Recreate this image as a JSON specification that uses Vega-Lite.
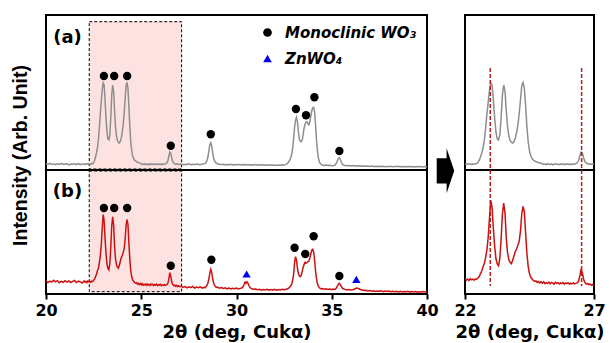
{
"$schema":"https://vega.github.io/schema/vega-lite/v6.json",
"background":"white",
"padding":{"left":9,"top":14,"right":0,"bottom":0},
"config":{"view":{"stroke":"black","strokeWidth":2},"font":"DejaVu Sans"},
"datasets":{
"xrd":[
{"x":20.0,"a":63,"b":133},{"x":20.1,"a":55,"b":115},{"x":20.2,"a":66,"b":129},{"x":20.3,"a":58,"b":119},{"x":20.4,"a":61,"b":137},{"x":20.5,"a":54,"b":122},{"x":20.6,"a":63,"b":133},{"x":20.7,"a":56,"b":113},{"x":20.8,"a":66,"b":126},{"x":20.9,"a":55,"b":117},
{"x":21.0,"a":59,"b":134},{"x":21.1,"a":63,"b":120},{"x":21.2,"a":51,"b":130},{"x":21.3,"a":60,"b":115},{"x":21.4,"a":57,"b":126},{"x":21.5,"a":62,"b":136},{"x":21.6,"a":54,"b":115},{"x":21.7,"a":63,"b":128},{"x":21.8,"a":53,"b":121},{"x":21.9,"a":59,"b":110},
{"x":22.0,"a":61,"b":130},{"x":22.05,"a":55,"b":118},{"x":22.1,"a":62,"b":127},{"x":22.15,"a":58,"b":114},{"x":22.2,"a":63,"b":131},{"x":22.25,"a":56,"b":121},{"x":22.3,"a":60,"b":127},{"x":22.35,"a":57,"b":117},{"x":22.4,"a":64,"b":129},{"x":22.45,"a":62,"b":124},
{"x":22.5,"a":75,"b":136},{"x":22.55,"a":95,"b":148},{"x":22.6,"a":130,"b":172},{"x":22.65,"a":170,"b":196},{"x":22.7,"a":220,"b":232},{"x":22.75,"a":300,"b":258},{"x":22.8,"a":420,"b":312},{"x":22.85,"a":560,"b":378},{"x":22.9,"a":680,"b":485},{"x":22.95,"a":800,"b":650},
{"x":23.0,"a":870,"b":795},{"x":23.05,"a":850,"b":735},{"x":23.1,"a":700,"b":555},{"x":23.15,"a":520,"b":405},{"x":23.2,"a":380,"b":300},{"x":23.25,"a":310,"b":255},{"x":23.3,"a":300,"b":240},{"x":23.35,"a":350,"b":305},{"x":23.4,"a":520,"b":465},{"x":23.45,"a":750,"b":680},
{"x":23.5,"a":850,"b":772},{"x":23.55,"a":790,"b":690},{"x":23.6,"a":590,"b":475},{"x":23.65,"a":430,"b":350},{"x":23.7,"a":340,"b":292},{"x":23.75,"a":295,"b":268},{"x":23.8,"a":275,"b":258},{"x":23.85,"a":270,"b":288},{"x":23.9,"a":285,"b":325},{"x":23.95,"a":320,"b":362},
{"x":24.0,"a":375,"b":385},{"x":24.05,"a":450,"b":415},{"x":24.1,"a":560,"b":448},{"x":24.15,"a":700,"b":535},{"x":24.2,"a":840,"b":680},{"x":24.25,"a":875,"b":745},{"x":24.3,"a":820,"b":700},{"x":24.35,"a":640,"b":515},{"x":24.4,"a":430,"b":345},{"x":24.45,"a":280,"b":232},
{"x":24.5,"a":190,"b":172},{"x":24.55,"a":140,"b":142},{"x":24.6,"a":115,"b":128},{"x":24.65,"a":100,"b":115},{"x":24.7,"a":90,"b":108},{"x":24.75,"a":84,"b":112},{"x":24.8,"a":78,"b":98},{"x":24.85,"a":74,"b":106},{"x":24.9,"a":71,"b":94},{"x":24.95,"a":67,"b":103},
{"x":25.0,"a":62,"b":92},{"x":25.05,"a":56,"b":104},{"x":25.1,"a":60,"b":88},{"x":25.15,"a":54,"b":97},{"x":25.2,"a":63,"b":90},{"x":25.25,"a":57,"b":101},{"x":25.3,"a":55,"b":86},{"x":25.35,"a":61,"b":99},{"x":25.4,"a":52,"b":93},{"x":25.45,"a":58,"b":84},
{"x":25.5,"a":62,"b":100},{"x":25.55,"a":55,"b":91},{"x":25.6,"a":59,"b":97},{"x":25.65,"a":53,"b":85},{"x":25.7,"a":60,"b":95},{"x":25.75,"a":57,"b":89},{"x":25.8,"a":62,"b":98},{"x":25.85,"a":54,"b":84},{"x":25.9,"a":58,"b":94},{"x":25.95,"a":61,"b":88},
{"x":26.0,"a":55,"b":96},{"x":26.05,"a":59,"b":83},{"x":26.1,"a":53,"b":92},{"x":26.15,"a":60,"b":87},{"x":26.2,"a":57,"b":95},{"x":26.25,"a":61,"b":86},{"x":26.3,"a":64,"b":90},{"x":26.35,"a":72,"b":95},{"x":26.4,"a":95,"b":108},{"x":26.45,"a":140,"b":152},
{"x":26.5,"a":180,"b":213},{"x":26.55,"a":168,"b":178},{"x":26.6,"a":120,"b":122},{"x":26.65,"a":85,"b":96},{"x":26.7,"a":70,"b":84},{"x":26.75,"a":63,"b":90},{"x":26.8,"a":58,"b":78},{"x":26.85,"a":61,"b":86},{"x":26.9,"a":55,"b":74},{"x":26.95,"a":59,"b":82},
{"x":27.0,"a":56,"b":75},{"x":27.1,"a":60,"b":78},{"x":27.2,"a":53,"b":66},{"x":27.3,"a":58,"b":74},{"x":27.4,"a":55,"b":62},{"x":27.5,"a":61,"b":71},{"x":27.6,"a":52,"b":64},{"x":27.7,"a":57,"b":75},{"x":27.8,"a":54,"b":60},{"x":27.9,"a":60,"b":69},
{"x":28.0,"a":56,"b":63},{"x":28.1,"a":52,"b":72},{"x":28.2,"a":59,"b":58},{"x":28.3,"a":62,"b":66},{"x":28.35,"a":66,"b":62},{"x":28.4,"a":75,"b":72},{"x":28.45,"a":95,"b":85},{"x":28.5,"a":130,"b":110},{"x":28.55,"a":190,"b":150},{"x":28.6,"a":255,"b":210},
{"x":28.65,"a":273,"b":247},{"x":28.7,"a":240,"b":215},{"x":28.75,"a":170,"b":150},{"x":28.8,"a":120,"b":110},{"x":28.85,"a":90,"b":86},{"x":28.9,"a":76,"b":72},{"x":28.95,"a":68,"b":66},{"x":29.0,"a":62,"b":70},{"x":29.1,"a":57,"b":58},{"x":29.2,"a":54,"b":64},
{"x":29.3,"a":58,"b":55},{"x":29.4,"a":52,"b":62},{"x":29.5,"a":56,"b":52},{"x":29.6,"a":53,"b":60},{"x":29.7,"a":57,"b":50},{"x":29.8,"a":51,"b":57},{"x":29.9,"a":55,"b":53},{"x":30.0,"a":52,"b":59},{"x":30.1,"a":56,"b":50},{"x":30.2,"a":50,"b":56},
{"x":30.3,"a":54,"b":62},{"x":30.35,"a":51,"b":75},{"x":30.4,"a":55,"b":95},{"x":30.45,"a":52,"b":118},{"x":30.5,"a":54,"b":108},{"x":30.55,"a":50,"b":122},{"x":30.6,"a":53,"b":108},{"x":30.65,"a":51,"b":85},{"x":30.7,"a":55,"b":66},{"x":30.75,"a":49,"b":58},
{"x":30.8,"a":53,"b":52},{"x":30.9,"a":50,"b":47},{"x":31.0,"a":54,"b":50},{"x":31.1,"a":48,"b":42},{"x":31.2,"a":52,"b":47},{"x":31.3,"a":49,"b":38},{"x":31.4,"a":53,"b":45},{"x":31.5,"a":47,"b":40},{"x":31.6,"a":51,"b":46},{"x":31.7,"a":48,"b":37},
{"x":31.8,"a":52,"b":44},{"x":31.9,"a":47,"b":39},{"x":32.0,"a":50,"b":46},{"x":32.1,"a":46,"b":38},{"x":32.2,"a":51,"b":44},{"x":32.3,"a":48,"b":40},{"x":32.4,"a":52,"b":47},{"x":32.5,"a":49,"b":43},{"x":32.6,"a":56,"b":48},{"x":32.65,"a":62,"b":50},
{"x":32.7,"a":72,"b":55},{"x":32.75,"a":85,"b":62},{"x":32.8,"a":100,"b":70},{"x":32.85,"a":125,"b":82},{"x":32.9,"a":160,"b":100},{"x":32.95,"a":220,"b":140},{"x":33.0,"a":320,"b":200},{"x":33.05,"a":430,"b":320},{"x":33.1,"a":500,"b":373},{"x":33.15,"a":527,"b":335},
{"x":33.2,"a":480,"b":255},{"x":33.25,"a":380,"b":205},{"x":33.3,"a":310,"b":182},{"x":33.35,"a":285,"b":173},{"x":33.4,"a":283,"b":185},{"x":33.45,"a":300,"b":228},{"x":33.5,"a":360,"b":268},{"x":33.55,"a":420,"b":298},{"x":33.6,"a":460,"b":318},{"x":33.65,"a":480,"b":308},
{"x":33.7,"a":483,"b":315},{"x":33.75,"a":462,"b":323},{"x":33.8,"a":452,"b":330},{"x":33.85,"a":482,"b":360},{"x":33.9,"a":540,"b":400},{"x":33.95,"a":592,"b":438},{"x":34.0,"a":622,"b":447},{"x":34.05,"a":627,"b":420},{"x":34.1,"a":580,"b":340},{"x":34.15,"a":450,"b":230},
{"x":34.2,"a":300,"b":150},{"x":34.25,"a":190,"b":102},{"x":34.3,"a":120,"b":76},{"x":34.35,"a":82,"b":63},{"x":34.4,"a":64,"b":56},{"x":34.45,"a":55,"b":50},{"x":34.5,"a":50,"b":54},{"x":34.6,"a":46,"b":47},{"x":34.7,"a":49,"b":52},{"x":34.8,"a":44,"b":45},
{"x":34.9,"a":47,"b":50},{"x":35.0,"a":43,"b":44},{"x":35.1,"a":46,"b":49},{"x":35.15,"a":48,"b":46},{"x":35.2,"a":55,"b":52},{"x":35.25,"a":70,"b":62},{"x":35.3,"a":95,"b":82},{"x":35.35,"a":118,"b":100},{"x":35.4,"a":123,"b":107},{"x":35.45,"a":105,"b":94},
{"x":35.5,"a":80,"b":75},{"x":35.55,"a":60,"b":60},{"x":35.6,"a":50,"b":52},{"x":35.7,"a":45,"b":46},{"x":35.8,"a":42,"b":41},{"x":35.9,"a":45,"b":44},{"x":36.0,"a":41,"b":39},{"x":36.1,"a":44,"b":43},{"x":36.2,"a":40,"b":50},{"x":36.3,"a":43,"b":60},
{"x":36.4,"a":39,"b":55},{"x":36.5,"a":42,"b":45},{"x":36.6,"a":38,"b":40},{"x":36.7,"a":41,"b":35},{"x":36.8,"a":37,"b":38},{"x":36.9,"a":40,"b":31},{"x":37.0,"a":36,"b":35},{"x":37.1,"a":39,"b":28},{"x":37.2,"a":35,"b":33},{"x":37.3,"a":38,"b":26},
{"x":37.4,"a":34,"b":31},{"x":37.5,"a":37,"b":27},{"x":37.6,"a":35,"b":32},{"x":37.7,"a":38,"b":24},{"x":37.8,"a":33,"b":30},{"x":37.9,"a":36,"b":25},{"x":38.0,"a":34,"b":29},{"x":38.1,"a":37,"b":23},{"x":38.2,"a":33,"b":28},{"x":38.3,"a":36,"b":22},
{"x":38.4,"a":34,"b":27},{"x":38.5,"a":37,"b":21},{"x":38.6,"a":32,"b":26},{"x":38.7,"a":35,"b":20},{"x":38.8,"a":33,"b":25},{"x":38.9,"a":36,"b":22},{"x":39.0,"a":32,"b":26},{"x":39.1,"a":35,"b":19},{"x":39.2,"a":33,"b":24},{"x":39.3,"a":36,"b":20},
{"x":39.4,"a":31,"b":25},{"x":39.5,"a":34,"b":18},{"x":39.6,"a":32,"b":23},{"x":39.7,"a":35,"b":19},{"x":39.8,"a":31,"b":24},{"x":39.9,"a":34,"b":20},{"x":40.0,"a":32,"b":23}
],
"peaksA":[
{"x":23.04,"v":940,"phase":"Monoclinic WO₃"},{"x":23.58,"v":940,"phase":"Monoclinic WO₃"},{"x":24.26,"v":940,"phase":"Monoclinic WO₃"},{"x":26.55,"v":243,"phase":"Monoclinic WO₃"},{"x":28.65,"v":357,"phase":"Monoclinic WO₃"},{"x":33.12,"v":610,"phase":"Monoclinic WO₃"},{"x":33.65,"v":547,"phase":"Monoclinic WO₃"},{"x":34.09,"v":727,"phase":"Monoclinic WO₃"},{"x":35.4,"v":190,"phase":"Monoclinic WO₃"}
],
"peaksB":[
{"x":23.04,"v":860,"phase":"Monoclinic WO₃"},{"x":23.58,"v":860,"phase":"Monoclinic WO₃"},{"x":24.26,"v":860,"phase":"Monoclinic WO₃"},{"x":26.55,"v":283,"phase":"Monoclinic WO₃"},{"x":28.68,"v":343,"phase":"Monoclinic WO₃"},{"x":33.05,"v":463,"phase":"Monoclinic WO₃"},{"x":33.61,"v":400,"phase":"Monoclinic WO₃"},{"x":34.05,"v":577,"phase":"Monoclinic WO₃"},{"x":35.4,"v":180,"phase":"Monoclinic WO₃"},{"x":30.53,"v":200,"phase":"ZnWO₄"},{"x":36.29,"v":147,"phase":"ZnWO₄"}
]
},
"bounds":"flush",
"columns":2,
"spacing":{"row":0,"column":38},
"resolve":{"scale":{"color":"independent","shape":"independent"},"legend":{"color":"independent","shape":"independent"}},
"concat":[
 {"width":381,"height":155,
  "layer":[
   {"data":{"values":[{}]},
    "mark":{"type":"rect","fill":"#fde2e2","stroke":"black","strokeWidth":1,"strokeDash":[3,2]},
    "encoding":{
     "x":{"datum":22.27,"type":"quantitative","scale":{"domain":[20,40],"nice":false,"zero":false},"axis":null},
     "x2":{"datum":27.12},
     "y":{"datum":1483,"type":"quantitative","scale":{"domain":[0,1550],"nice":false,"zero":false},
      "axis":{"title":"Intensity (Arb. Unit)","labels":false,"ticks":false,"domain":false,"grid":false,"titleFont":"Liberation Sans","titleFontSize":19.5,"titleFontWeight":"bold","titleColor":"black","titleAngle":-90,"titleX":-26,"titleY":140,"titleBaseline":"middle","titleAlign":"center"}},
     "y2":{"datum":10}}},
   {"data":{"name":"xrd"},
    "mark":{"type":"line","color":"#8e8e8e","strokeWidth":1.5},
    "encoding":{
     "x":{"field":"x","type":"quantitative","scale":{"domain":[20,40],"nice":false,"zero":false},"axis":null},
     "y":{"field":"a","type":"quantitative","scale":{"domain":[0,1550],"nice":false,"zero":false},
      "axis":{"title":"Intensity (Arb. Unit)","labels":false,"ticks":false,"domain":false,"grid":false,"titleFont":"Liberation Sans","titleFontSize":19.5,"titleFontWeight":"bold","titleColor":"black","titleAngle":-90,"titleX":-26,"titleY":140,"titleBaseline":"middle","titleAlign":"center"}}}},
   {"data":{"name":"peaksA"},
    "mark":{"type":"point","filled":true,"opacity":1,"size":70},
    "encoding":{
     "x":{"field":"x","type":"quantitative","scale":{"domain":[20,40],"nice":false,"zero":false},"axis":null},
     "y":{"field":"v","type":"quantitative","scale":{"domain":[0,1550],"nice":false,"zero":false},
      "axis":{"title":"Intensity (Arb. Unit)","labels":false,"ticks":false,"domain":false,"grid":false,"titleFont":"Liberation Sans","titleFontSize":19.5,"titleFontWeight":"bold","titleColor":"black","titleAngle":-90,"titleX":-26,"titleY":140,"titleBaseline":"middle","titleAlign":"center"}},
     "color":{"field":"phase","type":"nominal","scale":{"domain":["Monoclinic WO₃","ZnWO₄"],"range":["black","#0000ee"]},
      "legend":{"orient":"none","legendX":214,"legendY":10,"title":null,"padding":0,"labelFont":"DejaVu Sans","labelFontSize":15,"labelFontWeight":"bold","labelFontStyle":"italic","labelColor":"black","symbolSize":75,"rowPadding":10,"labelOffset":10,"symbolStrokeWidth":0}},
     "shape":{"field":"phase","type":"nominal","scale":{"domain":["Monoclinic WO₃","ZnWO₄"],"range":["circle","triangle-up"]}}}},
   {"data":{"values":[{"label":"(a)"}]},
    "mark":{"type":"text","font":"DejaVu Sans","fontSize":18,"fontWeight":"bold","color":"black","align":"center","baseline":"middle"},
    "encoding":{
     "text":{"field":"label"},
     "x":{"datum":21.13,"type":"quantitative","scale":{"domain":[20,40],"nice":false,"zero":false},"axis":null},
     "y":{"datum":1325,"type":"quantitative","scale":{"domain":[0,1550],"nice":false,"zero":false},
      "axis":{"title":"Intensity (Arb. Unit)","labels":false,"ticks":false,"domain":false,"grid":false,"titleFont":"Liberation Sans","titleFontSize":19.5,"titleFontWeight":"bold","titleColor":"black","titleAngle":-90,"titleX":-26,"titleY":140,"titleBaseline":"middle","titleAlign":"center"}}}},
   {"data":{"values":[{}]},
    "mark":{"type":"point","shape":"M-0.39,-0.56L0.05,-0.56L0.05,-1L0.39,0L0.05,1L0.05,0.56L-0.39,0.56Z","size":2025,"filled":true,"color":"black","opacity":1,"strokeWidth":0},
    "encoding":{
     "x":{"datum":40.97,"type":"quantitative","scale":{"domain":[20,40],"nice":false,"zero":false},"axis":null},
     "y":{"datum":-8,"type":"quantitative","scale":{"domain":[0,1550],"nice":false,"zero":false},
      "axis":{"title":"Intensity (Arb. Unit)","labels":false,"ticks":false,"domain":false,"grid":false,"titleFont":"Liberation Sans","titleFontSize":19.5,"titleFontWeight":"bold","titleColor":"black","titleAngle":-90,"titleX":-26,"titleY":140,"titleBaseline":"middle","titleAlign":"center"}}}}
  ]},
 {"width":129,"height":155,
  "layer":[
   {"data":{"name":"xrd"},
    "transform":[{"filter":"datum.x >= 22 && datum.x <= 27"}],
    "mark":{"type":"line","color":"#8e8e8e","strokeWidth":1.5,"clip":true},
    "encoding":{
     "x":{"field":"x","type":"quantitative","scale":{"domain":[22,27],"nice":false,"zero":false},"axis":null},
     "y":{"field":"a","type":"quantitative","scale":{"domain":[0,1550],"nice":false,"zero":false},"axis":null}}},
   {"data":{"values":[{"peak":22.98},{"peak":26.52}]},
    "mark":{"type":"rule","color":"#b81c1c","strokeWidth":1.5,"strokeDash":[4,2]},
    "encoding":{
     "x":{"field":"peak","type":"quantitative","scale":{"domain":[22,27],"nice":false,"zero":false},"axis":null},
     "y":{"datum":1020,"type":"quantitative","scale":{"domain":[0,1550],"nice":false,"zero":false},"axis":null},
     "y2":{"datum":0}}}
  ]},
 {"width":381,"height":124,
  "layer":[
   {"data":{"values":[{}]},
    "mark":{"type":"rect","fill":"#fde2e2","stroke":"black","strokeWidth":1,"strokeDash":[3,2]},
    "encoding":{
     "x":{"datum":22.27,"type":"quantitative","scale":{"domain":[20,40],"nice":false,"zero":false},
      "axis":{"values":[20,25,30,35,40],"format":"d","title":"2θ (deg, Cukα)","grid":false,"domain":false,"ticks":true,"tickSize":5,"tickWidth":2,"tickColor":"black","labelFont":"DejaVu Sans","labelFontSize":16,"labelFontWeight":"bold","labelColor":"black","labelPadding":3,"labelFlush":false,"titleFont":"DejaVu Sans","titleFontSize":18,"titleFontWeight":"bold","titleColor":"black","titlePadding":5}},
     "x2":{"datum":27.12},
     "y":{"datum":1230,"type":"quantitative","scale":{"domain":[0,1240],"nice":false,"zero":false},"axis":null},
     "y2":{"datum":23}}},
   {"data":{"name":"xrd"},
    "mark":{"type":"line","color":"#cc1111","strokeWidth":1.5},
    "encoding":{
     "x":{"field":"x","type":"quantitative","scale":{"domain":[20,40],"nice":false,"zero":false},
      "axis":{"values":[20,25,30,35,40],"format":"d","title":"2θ (deg, Cukα)","grid":false,"domain":false,"ticks":true,"tickSize":5,"tickWidth":2,"tickColor":"black","labelFont":"DejaVu Sans","labelFontSize":16,"labelFontWeight":"bold","labelColor":"black","labelPadding":3,"labelFlush":false,"titleFont":"DejaVu Sans","titleFontSize":18,"titleFontWeight":"bold","titleColor":"black","titlePadding":5}},
     "y":{"field":"b","type":"quantitative","scale":{"domain":[0,1240],"nice":false,"zero":false},"axis":null}}},
   {"data":{"name":"peaksB"},
    "mark":{"type":"point","filled":true,"opacity":1,"size":70},
    "encoding":{
     "x":{"field":"x","type":"quantitative","scale":{"domain":[20,40],"nice":false,"zero":false},
      "axis":{"values":[20,25,30,35,40],"format":"d","title":"2θ (deg, Cukα)","grid":false,"domain":false,"ticks":true,"tickSize":5,"tickWidth":2,"tickColor":"black","labelFont":"DejaVu Sans","labelFontSize":16,"labelFontWeight":"bold","labelColor":"black","labelPadding":3,"labelFlush":false,"titleFont":"DejaVu Sans","titleFontSize":18,"titleFontWeight":"bold","titleColor":"black","titlePadding":5}},
     "y":{"field":"v","type":"quantitative","scale":{"domain":[0,1240],"nice":false,"zero":false},"axis":null},
     "color":{"field":"phase","type":"nominal","scale":{"domain":["Monoclinic WO₃","ZnWO₄"],"range":["black","#0000ee"]},"legend":null},
     "shape":{"field":"phase","type":"nominal","scale":{"domain":["Monoclinic WO₃","ZnWO₄"],"range":["circle","triangle-up"]},"legend":null}}},
   {"data":{"values":[{"label":"(b)"}]},
    "mark":{"type":"text","font":"DejaVu Sans","fontSize":18,"fontWeight":"bold","color":"black","align":"center","baseline":"middle"},
    "encoding":{
     "text":{"field":"label"},
     "x":{"datum":21.13,"type":"quantitative","scale":{"domain":[20,40],"nice":false,"zero":false},
      "axis":{"values":[20,25,30,35,40],"format":"d","title":"2θ (deg, Cukα)","grid":false,"domain":false,"ticks":true,"tickSize":5,"tickWidth":2,"tickColor":"black","labelFont":"DejaVu Sans","labelFontSize":16,"labelFontWeight":"bold","labelColor":"black","labelPadding":3,"labelFlush":false,"titleFont":"DejaVu Sans","titleFontSize":18,"titleFontWeight":"bold","titleColor":"black","titlePadding":5}},
     "y":{"datum":1020,"type":"quantitative","scale":{"domain":[0,1240],"nice":false,"zero":false},"axis":null}}}
  ]},
 {"width":129,"height":124,
  "layer":[
   {"data":{"name":"xrd"},
    "transform":[{"filter":"datum.x >= 22 && datum.x <= 27"}],
    "mark":{"type":"line","color":"#cc1111","strokeWidth":1.5,"clip":true},
    "encoding":{
     "x":{"field":"x","type":"quantitative","scale":{"domain":[22,27],"nice":false,"zero":false},
      "axis":{"values":[22,27],"format":"d","title":"2θ (deg, Cukα)","grid":false,"domain":false,"ticks":true,"tickSize":5,"tickWidth":2,"tickColor":"black","labelFont":"DejaVu Sans","labelFontSize":16,"labelFontWeight":"bold","labelColor":"black","labelPadding":3,"labelFlush":false,"titleFont":"DejaVu Sans","titleFontSize":18,"titleFontWeight":"bold","titleColor":"black","titlePadding":5}},
     "y":{"field":"b","type":"quantitative","scale":{"domain":[0,1054],"nice":false,"zero":false},"axis":null}}},
   {"data":{"values":[{"peak":22.98},{"peak":26.52}]},
    "mark":{"type":"rule","color":"#b81c1c","strokeWidth":1.5,"strokeDash":[4,2]},
    "encoding":{
     "x":{"field":"peak","type":"quantitative","scale":{"domain":[22,27],"nice":false,"zero":false},
      "axis":{"values":[22,27],"format":"d","title":"2θ (deg, Cukα)","grid":false,"domain":false,"ticks":true,"tickSize":5,"tickWidth":2,"tickColor":"black","labelFont":"DejaVu Sans","labelFontSize":16,"labelFontWeight":"bold","labelColor":"black","labelPadding":3,"labelFlush":false,"titleFont":"DejaVu Sans","titleFontSize":18,"titleFontWeight":"bold","titleColor":"black","titlePadding":5}},
     "y":{"datum":1054,"type":"quantitative","scale":{"domain":[0,1054],"nice":false,"zero":false},"axis":null},
     "y2":{"datum":68}}}
  ]}
]
}
